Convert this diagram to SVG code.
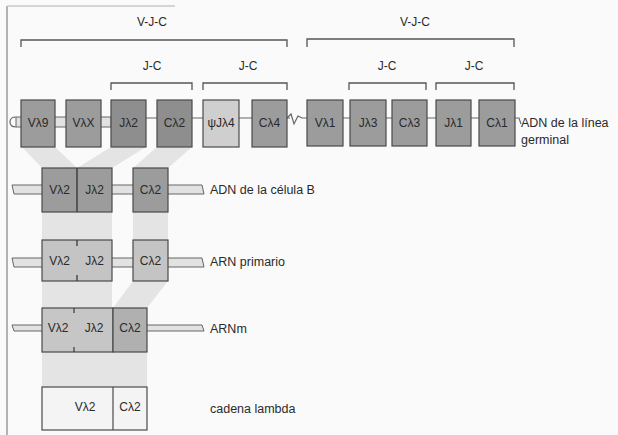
<svg xmlns="http://www.w3.org/2000/svg" width="618" height="435" viewBox="0 0 618 435">
<style>
text{font-family:"Liberation Sans Narrow","Liberation Sans",Arial,sans-serif;fill:#2a2a2a}
.bl{font-size:12px;text-anchor:middle}
.lb{font-size:12.5px}
.br{fill:none;stroke:#555;stroke-width:1.3}
.box{stroke:#4a4a4a;stroke-width:1.2}
.dk{fill:#8e8e8e}
.md{fill:#9c9c9c}
.lt{fill:#cfcfcf}
.pl{fill:#c4c4c4}
.band{fill:#e4e4e4}
.ln{stroke:#666;stroke-width:1.2;fill:none}
.strip{fill:#e2e2e2;stroke:#666;stroke-width:1}
</style>
<rect width="618" height="435" fill="#fafafa"/>
<line x1="7" y1="6" x2="7" y2="435" stroke="#9a9a9a" stroke-width="1.5"/>
<line x1="7" y1="6" x2="175" y2="6" stroke="#c8c8c8" stroke-width="1.5"/>

<g id="bands">
<polygon class="band" points="22,147 55,147 77,168 42,168"/>
<polygon class="band" points="111,147 146,147 112,168 77,168"/>
<polygon class="band" points="157,147 192,147 168,168 133,168"/>
<rect class="band" x="42" y="212" width="70" height="28"/>
<rect class="band" x="133" y="212" width="35" height="28"/>
<rect class="band" x="42" y="281" width="70" height="27"/>
<polygon class="band" points="133,281 168,281 147,308 113,308"/>
<rect class="band" x="42" y="352" width="105" height="35"/>
</g>

<g id="connectors">
<!-- brackets -->
<path class="br" d="M21,47 V40 H287 V47"/>
<path class="br" d="M307,47 V39 H514 V47"/>
<path class="br" d="M111,90 V83 H192 V90"/>
<path class="br" d="M203,90 V83 H287 V90"/>
<path class="br" d="M349,90 V83 H426 V90"/>
<path class="br" d="M436,90 V83 H514 V90"/>
<!-- germline strand -->
<path class="strip" d="M16,117 H111 V127 H16 Z"/>
<path class="ln" d="M16,117 Q10,117 10,122 Q10,127 16,127"/>
<line class="ln" x1="146" y1="118" x2="290" y2="118"/>
<path class="ln" d="M287,118 L291,114 L294,124 L298,116 L302,118 H307"/>
<line class="ln" x1="343" y1="118" x2="514" y2="118"/>
<path class="ln" d="M515,118 L519,118 L521,124"/>
<!-- row 2 strand -->
<path class="strip" d="M12,185 H202 L204,194 H14 Z"/>
<!-- row 3 strand -->
<path class="strip" d="M12,258 H202 L204,267 H14 Z"/>
<!-- row 4 strand -->
<path class="strip" d="M12,325 H202 L204,331 H14 Z"/>
</g>

<g id="labels-brackets">
<text class="bl" x="152" y="26">V-J-C</text>
<text class="bl" x="415" y="26">V-J-C</text>
<text class="bl" x="152" y="70">J-C</text>
<text class="bl" x="248" y="70">J-C</text>
<text class="bl" x="387" y="70">J-C</text>
<text class="bl" x="474" y="70">J-C</text>
</g>

<g id="germline">
<g id="Vl9"><rect class="box md" x="21" y="100" width="34" height="47"/><text class="bl" x="38" y="127">Vλ9</text></g>
<g id="VlX"><rect class="box md" x="66" y="100" width="35" height="47"/><text class="bl" x="83.5" y="127">VλX</text></g>
<g id="Jl2"><rect class="box dk" x="111" y="100" width="35" height="47"/><text class="bl" x="128.5" y="127">Jλ2</text></g>
<g id="Cl2"><rect class="box dk" x="157" y="100" width="35" height="47"/><text class="bl" x="174.5" y="127">Cλ2</text></g>
<g id="psiJl4"><rect class="box lt" x="203" y="100" width="36" height="47"/><text class="bl" x="221" y="127">ψJλ4</text></g>
<g id="Cl4"><rect class="box md" x="252" y="100" width="35" height="47"/><text class="bl" x="269.5" y="127">Cλ4</text></g>
<g id="Vl1"><rect class="box md" x="307" y="100" width="36" height="46"/><text class="bl" x="325" y="127">Vλ1</text></g>
<g id="Jl3"><rect class="box md" x="350" y="100" width="36" height="46"/><text class="bl" x="368" y="127">Jλ3</text></g>
<g id="Cl3"><rect class="box md" x="392" y="100" width="35" height="46"/><text class="bl" x="409.5" y="127">Cλ3</text></g>
<g id="Jl1"><rect class="box md" x="436" y="100" width="35" height="46"/><text class="bl" x="453.5" y="127">Jλ1</text></g>
<g id="Cl1"><rect class="box md" x="479" y="100" width="36" height="46"/><text class="bl" x="497" y="127">Cλ1</text></g>
<text class="lb" x="521" y="127">ADN de la línea</text>
<text class="lb" x="521" y="144">germinal</text>
</g>

<g id="bcell">
<rect class="box md" x="42" y="168" width="70" height="44"/>
<line x1="77" y1="168" x2="77" y2="212" stroke="#3a3a3a" stroke-width="1.4"/>
<text class="bl" x="59.5" y="194">Vλ2</text>
<text class="bl" x="94.5" y="194">Jλ2</text>
<rect class="box md" x="133" y="168" width="35" height="44"/>
<text class="bl" x="150.5" y="194">Cλ2</text>
<text class="lb" x="210" y="194">ADN de la célula B</text>
</g>

<g id="arn-primario">
<rect class="box pl" x="42" y="240" width="70" height="41"/>
<line x1="77" y1="240" x2="77" y2="246" stroke="#3a3a3a" stroke-width="1.3"/>
<line x1="77" y1="275" x2="77" y2="281" stroke="#3a3a3a" stroke-width="1.3"/>
<text class="bl" x="59.5" y="265">Vλ2</text>
<text class="bl" x="94.5" y="265">Jλ2</text>
<rect class="box pl" x="133" y="240" width="35" height="41"/>
<text class="bl" x="150.5" y="265">Cλ2</text>
<text class="lb" x="210" y="266">ARN primario</text>
</g>

<g id="arnm">
<rect class="box" x="42" y="308" width="71" height="44" fill="#c6c6c6"/>
<rect class="box" x="113" y="308" width="34" height="44" fill="#b0b0b0"/>
<line x1="74" y1="308" x2="74" y2="313" stroke="#3a3a3a" stroke-width="1.2"/>
<line x1="74" y1="347" x2="74" y2="352" stroke="#3a3a3a" stroke-width="1.2"/>
<text class="bl" x="58" y="332">Vλ2</text>
<text class="bl" x="94" y="332">Jλ2</text>
<text class="bl" x="130" y="332">Cλ2</text>
<text class="lb" x="210" y="333">ARNm</text>
</g>

<g id="cadena">
<rect class="box" x="42" y="387" width="105" height="43" fill="#f4f4f4"/>
<line x1="113" y1="387" x2="113" y2="430" stroke="#4a4a4a" stroke-width="1.2"/>
<text class="bl" x="85" y="411">Vλ2</text>
<text class="bl" x="130" y="411">Cλ2</text>
<text class="lb" x="210" y="413">cadena lambda</text>
</g>
</svg>
